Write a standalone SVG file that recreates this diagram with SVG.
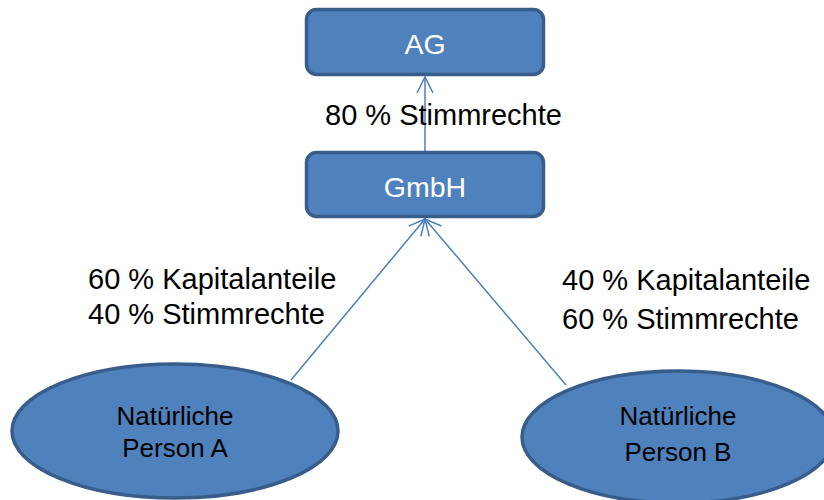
<svg xmlns="http://www.w3.org/2000/svg" width="824" height="500" viewBox="0 0 824 500">
<defs>
<style>
.box{fill:#4f81bd;stroke:#385d8a;stroke-width:3.5}
.nt{font-family:"Liberation Sans",Arial,sans-serif;font-size:28.5px;fill:#ffffff;text-anchor:middle}
.et{font-family:"Liberation Sans",Arial,sans-serif;font-size:26px;fill:#000000;text-anchor:middle}
.lbl{font-family:"Liberation Sans",Arial,sans-serif;font-size:29px;fill:#000000}
.conn{stroke:#4a7ebb;stroke-width:1.5;fill:none}
</style>
<marker id="arr" viewBox="0 0 20 20" refX="18" refY="10" markerWidth="20" markerHeight="20" markerUnits="userSpaceOnUse" orient="auto">
<path d="M2,2 L18,10 L2,18" fill="none" stroke="#4a7ebb" stroke-width="1.5"/>
</marker>
</defs>
<rect width="824" height="500" fill="#ffffff"/>
<g id="connectors">
<line class="conn" x1="425" y1="151" x2="425" y2="77" marker-end="url(#arr)"/>
<line class="conn" x1="291" y1="380" x2="425" y2="219" marker-end="url(#arr)"/>
<line class="conn" x1="566" y1="385" x2="425" y2="219" marker-end="url(#arr)"/>
</g>
<g id="node-ag">
<rect class="box" x="306.5" y="9.5" width="237" height="65" rx="10"/>
<text class="nt" x="425" y="54">AG</text>
</g>
<g id="node-gmbh">
<rect class="box" x="306.5" y="152.5" width="237" height="64" rx="10"/>
<text class="nt" x="425" y="197">GmbH</text>
</g>
<g id="node-a">
<ellipse class="box" cx="175" cy="431" rx="163" ry="67"/>
<text class="et" x="175" y="425">Natürliche</text>
<text class="et" x="175" y="457">Person A</text>
</g>
<g id="node-b">
<ellipse class="box" cx="678" cy="437" rx="156" ry="66"/>
<text class="et" x="678" y="425">Natürliche</text>
<text class="et" x="678" y="461">Person B</text>
</g>
<g id="labels">
<text class="lbl" x="325" y="125">80 % Stimmrechte</text>
<text class="lbl" x="88" y="289">60 % Kapitalanteile</text>
<text class="lbl" x="88" y="324">40 % Stimmrechte</text>
<text class="lbl" x="562" y="290">40 % Kapitalanteile</text>
<text class="lbl" x="562" y="329">60 % Stimmrechte</text>
</g>
</svg>
